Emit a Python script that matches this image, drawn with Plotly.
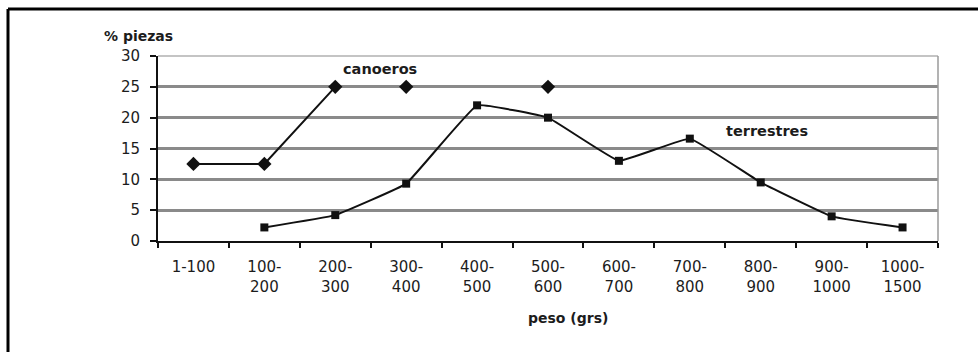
import plotly.graph_objects as go

categories = ["1-100", "100-200", "200-300", "300-400", "400-500", "500-600",
              "600-700", "700-800", "800-900", "900-1000", "1000-1500"]
tick_labels = ["1-100", "100-<br>200", "200-<br>300", "300-<br>400", "400-<br>500",
               "500-<br>600", "600-<br>700", "700-<br>800", "800-<br>900",
               "900-<br>1000", "1000-<br>1500"]
canoeros = [12.5, 12.5, 25, 25, None, 25, None, None, None, None, None]
canoeros_joined = 3  # only the first three points are joined by a line
terrestres = [None, 2.2, 4.2, 9.3, 22, 20, 13, 16.6, 9.5, 4.0, 2.2]
y_ticks = [0, 5, 10, 15, 20, 25, 30]

FONT = "DejaVu Sans"
TXT = "#1c1c1c"

fig = go.Figure()
fig.add_trace(go.Scatter(
    x=categories[:canoeros_joined], y=canoeros[:canoeros_joined], mode="lines",
    line=dict(color="#111111", width=2), showlegend=False, hoverinfo="skip"))
fig.add_trace(go.Scatter(
    x=categories, y=canoeros, mode="markers", name="canoeros",
    marker=dict(symbol="diamond", size=11, color="#111111"), showlegend=False))
fig.add_trace(go.Scatter(
    x=categories, y=terrestres, mode="lines+markers", name="terrestres",
    line=dict(color="#111111", width=2, shape="spline", smoothing=0.25),
    marker=dict(symbol="square", size=8, color="#111111"), showlegend=False))

# plot area: x 158..938, y 56..241
L, R, T, B = 158, 40, 56, 111
W, H = 978 - L - R, 352 - T - B

def px(x):
    return (x - L) / W

def py(y):
    return (T + H - y) / H

shapes = [
    dict(type="line", xref="paper", yref="paper", x0=0, x1=1, y0=1, y1=1,
         line=dict(color="white", width=3), layer="above"),
    dict(type="line", xref="paper", yref="paper", x0=0, x1=1, y0=1, y1=1,
         line=dict(color="#b0b0b0", width=1.5), layer="above"),
    dict(type="line", xref="paper", yref="paper", x0=1, x1=1, y0=0, y1=1,
         line=dict(color="#9a9a9a", width=1.5), layer="above"),
    dict(type="line", xref="paper", yref="paper", x0=px(8), x1=px(1000),
         y0=py(9), y1=py(9), line=dict(color="black", width=3)),
    dict(type="line", xref="paper", yref="paper", x0=px(8), x1=px(8),
         y0=py(9), y1=py(400), line=dict(color="black", width=3)),
]

annotations = [
    dict(text="<b>% piezas</b>", xref="paper", yref="paper", x=px(102), y=py(36),
         xanchor="left", yanchor="middle", showarrow=False,
         font=dict(family=FONT, size=14, color=TXT)),
    dict(text="<b>peso (grs)</b>", xref="paper", yref="paper", x=px(568), y=py(318),
         xanchor="center", yanchor="middle", showarrow=False,
         font=dict(family=FONT, size=14, color=TXT)),
    dict(text="<b>canoeros</b>", xref="paper", yref="paper", x=px(380), y=py(69),
         xanchor="center", yanchor="middle", showarrow=False,
         font=dict(family=FONT, size=14.5, color=TXT)),
    dict(text="<b>terrestres</b>", xref="paper", yref="paper", x=px(767), y=py(131),
         xanchor="center", yanchor="middle", showarrow=False,
         font=dict(family=FONT, size=14.5, color=TXT)),
]

fig.update_layout(
    width=978, height=352,
    margin=dict(l=L, r=R, t=T, b=B, pad=0),
    paper_bgcolor="white", plot_bgcolor="white",
    font=dict(family=FONT, size=15, color=TXT),
    shapes=shapes, annotations=annotations,
    xaxis=dict(
        type="category", categoryorder="array", categoryarray=categories,
        tickmode="array", tickvals=categories, ticktext=tick_labels,
        tickson="boundaries", ticks="outside", ticklen=5, tickwidth=1.5,
        tickcolor="#111111", showline=True, linecolor="#111111", linewidth=2,
        showgrid=False, zeroline=False, range=[-0.5, 10.5],
        ticklabelstandoff=11, tickfont=dict(family=FONT, size=15, color=TXT)),
    yaxis=dict(
        range=[0, 30], tickmode="array", tickvals=y_ticks,
        ticks="outside", ticklen=6, tickwidth=1.5, tickcolor="#111111",
        showline=True, linecolor="#111111", linewidth=2,
        showgrid=True, gridcolor="#8a8a8a", gridwidth=3, zeroline=False,
        ticklabelstandoff=7, tickfont=dict(family=FONT, size=15, color=TXT)),
)

fig.write_html("out.html")
